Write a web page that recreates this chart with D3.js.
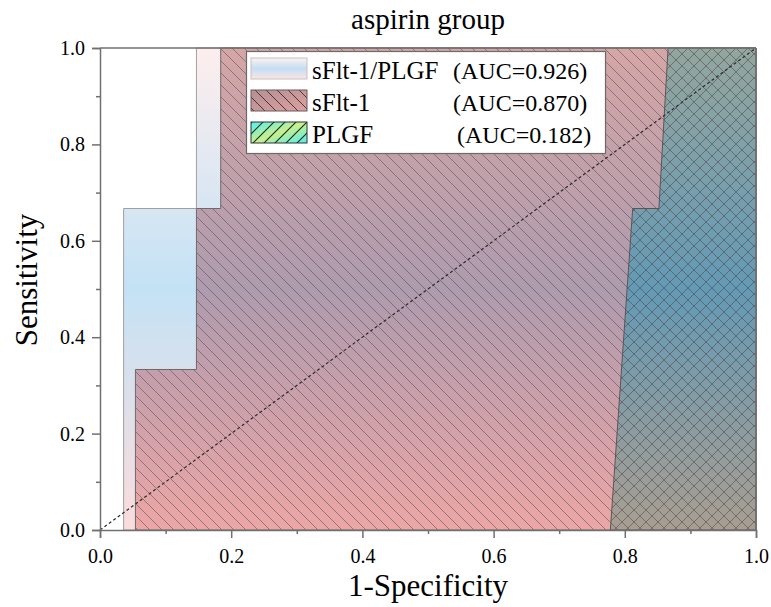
<!DOCTYPE html>
<html>
<head>
<meta charset="utf-8">
<script src="https://cdn.jsdelivr.net/npm/d3@7"></script>
<style>
  html, body { margin: 0; padding: 0; background: #fff; }
  svg { display: block; }
  text { font-family: "Liberation Serif", "Times New Roman", serif; fill: #000; }
</style>
</head>
<body>
<div id="chart"></div>
<script>
// ---------------- data ----------------
const seriesNames = ["sFlt-1/PLGF", "sFlt-1", "PLGF"];
const aucValues = [0.926, 0.870, 0.182];
// ROC points (1-Specificity, Sensitivity)
const ratioFpr = [0.036, 0.036, 0.147, 0.147, 1.0];
const ratioTpr = [0.0, 0.667, 0.667, 1.0, 1.0];
const sflt1Fpr = [0.054, 0.054, 0.147, 0.147, 0.184, 0.184, 1.0];
const sflt1Tpr = [0.0, 0.333, 0.333, 0.667, 0.667, 1.0, 1.0];
const plgfFpr = [0.778, 0.812, 0.852, 0.866, 1.0];
const plgfTpr = [0.0, 0.667, 0.667, 1.0, 1.0];
const refLine = [0, 1];
const xTicks = [0, 0.2, 0.4, 0.6, 0.8, 1.0];
const xMinorTicks = [0.1, 0.3, 0.5, 0.7, 0.9];
const yTicks = [0, 0.2, 0.4, 0.6, 0.8, 1.0];
const yMinorTicks = [0.1, 0.3, 0.5, 0.7, 0.9];
const titleText = "aspirin group";
const xLabel = "1-Specificity";
const yLabel = "Sensitivity";

// ---------------- layout ----------------
const W = 771, H = 607;
const M = { left: 100, top: 48, right: 15, bottom: 77 };
const pw = W - M.left - M.right, ph = H - M.top - M.bottom;

const svg = d3.select("#chart").append("svg").attr("width", W).attr("height", H);
const defs = svg.append("defs");

const x = d3.scaleLinear().domain([0, 1]).range([0, pw]);
const y = d3.scaleLinear().domain([0, 1]).range([ph, 0]);

function vGrad(id, stops, units) {
  const g = defs.append("linearGradient").attr("id", id)
    .attr("x1", 0).attr("x2", 0);
  if (units === "user") {
    g.attr("gradientUnits", "userSpaceOnUse").attr("y1", 0).attr("y2", ph);
  } else {
    g.attr("y1", 0).attr("y2", 1);
  }
  stops.forEach(s => g.append("stop").attr("offset", s[0]).attr("stop-color", s[1]));
  return g;
}
vGrad("gRatio", [[0, "#fdeeee"], [0.5, "#c4e2f5"], [1, "#fbdcdc"]], "user");
vGrad("gSflt", [[0, "#d5a6a6"], [0.5, "#ae9bae"], [1, "#eca6a6"]], "user");
vGrad("gPlgf", [[0, "#93a69f"], [0.5, "#639ab6"], [1, "#a89e92"]], "user");
vGrad("gLeg1", [[0, "#fdf3f2"], [0.5, "#c3def2"], [1, "#fbe6e4"]]);
const gl2 = defs.append("linearGradient").attr("id", "gLeg2")
  .attr("x1", 0).attr("y1", 0).attr("x2", 1).attr("y2", 1);
gl2.append("stop").attr("offset", 0).attr("stop-color", "#b48f93");
gl2.append("stop").attr("offset", 1).attr("stop-color", "#dea0a0");
const gl3 = defs.append("linearGradient").attr("id", "gLeg3")
  .attr("x1", 0).attr("y1", 0).attr("x2", 1).attr("y2", 1);
gl3.append("stop").attr("offset", 0).attr("stop-color", "#4ef0f2");
gl3.append("stop").attr("offset", 0.5).attr("stop-color", "#c8f08c");
gl3.append("stop").attr("offset", 1).attr("stop-color", "#4eeef2");

function hatch(id, dir, color, op, sw, size) {
  const p = defs.append("pattern").attr("id", id)
    .attr("patternUnits", "userSpaceOnUse").attr("width", size).attr("height", size);
  const s = size;
  const d = dir === "back"
    ? `M0,0L${s},${s}M${-s / 2},${s / 2}L${s / 2},${s * 1.5}M${s / 2},${-s / 2}L${s * 1.5},${s / 2}`
    : `M0,${s}L${s},0M${-s / 2},${s / 2}L${s / 2},${-s / 2}M${s / 2},${s * 1.5}L${s * 1.5},${s / 2}`;
  p.append("path").attr("d", d).attr("stroke", color).attr("stroke-opacity", op)
    .attr("stroke-width", sw).attr("fill", "none");
}
hatch("hBack", "back", "#3a3a3a", 0.55, 0.85, 12);
hatch("hBack2", "back", "#4a3a3c", 0.6, 0.85, 12);
hatch("hFwd", "fwd", "#4a3a3c", 0.6, 0.85, 12);
hatch("hBackL", "back", "#222", 0.8, 1, 11);
hatch("hFwdL", "fwd", "#111", 0.9, 1.1, 11);

const g = svg.append("g").attr("transform", `translate(${M.left},${M.top})`);

const area = d3.area().x(d => x(d[0])).y0(y(0)).y1(d => y(d[1]));
const ratioPts = ratioFpr.map((v, i) => [v, ratioTpr[i]]);
const sfltPts = sflt1Fpr.map((v, i) => [v, sflt1Tpr[i]]);
const plgfPts = plgfFpr.map((v, i) => [v, plgfTpr[i]]);

// sFlt-1/PLGF
g.append("path").attr("d", area(ratioPts)).attr("fill", "url(#gRatio)")
  .attr("stroke", "#a0a0a0").attr("stroke-width", 1);
// sFlt-1
g.append("path").attr("d", area(sfltPts)).attr("fill", "url(#gSflt)");
g.append("path").attr("d", area(sfltPts)).attr("fill", "url(#hBack)");
g.append("path").attr("d", area(sfltPts)).attr("fill", "none")
  .attr("stroke", "#6e6a6c").attr("stroke-width", 1);
// PLGF
g.append("path").attr("d", area(plgfPts)).attr("fill", "url(#gPlgf)");
g.append("path").attr("d", area(plgfPts)).attr("fill", "url(#hBack2)");
g.append("path").attr("d", area(plgfPts)).attr("fill", "url(#hFwd)");
g.append("path").attr("d", area(plgfPts)).attr("fill", "none")
  .attr("stroke", "#5e5456").attr("stroke-width", 1);

// reference diagonal
g.append("line")
  .attr("x1", x(refLine[0])).attr("y1", y(refLine[0]))
  .attr("x2", x(refLine[1])).attr("y2", y(refLine[1]))
  .attr("stroke", "#2a2a2a").attr("stroke-width", 1.2).attr("stroke-dasharray", "3,2.5");

// axes
const axisColor = "#707070";
const fmt = d3.format(".1f");
const xAxis = g.append("g").attr("transform", `translate(0,${ph})`)
  .call(d3.axisBottom(x).tickValues(xTicks).tickFormat(fmt).tickSize(8).tickPadding(11));
const xMinor = g.append("g").attr("transform", `translate(0,${ph})`)
  .call(d3.axisBottom(x).tickValues(xMinorTicks).tickFormat("").tickSize(4));
const yAxis = g.append("g")
  .call(d3.axisLeft(y).tickValues(yTicks).tickFormat(fmt).tickSize(8).tickPadding(7));
const yMinor = g.append("g")
  .call(d3.axisLeft(y).tickValues(yMinorTicks).tickFormat("").tickSize(4));
[xAxis, xMinor, yAxis, yMinor].forEach(a => {
  a.selectAll(".domain").attr("stroke", axisColor).attr("stroke-width", 1.5);
  a.selectAll(".tick line").attr("stroke", axisColor).attr("stroke-width", 1.5);
  a.selectAll("text").attr("font-family", "Liberation Serif").attr("font-size", 20).attr("fill", "#000");
});
xMinor.select(".domain").remove();
yMinor.select(".domain").remove();
// frame top & right
g.append("line").attr("x1", 0).attr("x2", pw).attr("y1", 0).attr("y2", 0)
  .attr("stroke", axisColor).attr("stroke-width", 1.5);
g.append("line").attr("x1", pw).attr("x2", pw).attr("y1", 0).attr("y2", ph)
  .attr("stroke", axisColor).attr("stroke-width", 1.5);

// titles
svg.append("text").attr("x", M.left + pw / 2).attr("y", 29).attr("text-anchor", "middle")
  .attr("font-size", 29).text(titleText);
svg.append("text").attr("x", M.left + pw / 2).attr("y", 596).attr("text-anchor", "middle")
  .attr("font-size", 31).text(xLabel);
svg.append("text").attr("transform", "translate(37,280) rotate(-90)").attr("text-anchor", "middle")
  .attr("font-size", 31).text(yLabel);

// legend
const lg = svg.append("g");
lg.append("rect").attr("x", 246.5).attr("y", 51.5).attr("width", 359).attr("height", 102)
  .attr("fill", "#fff").attr("stroke", "#6a6a6a").attr("stroke-width", 1.2);
const swatchFills = [["url(#gLeg1)"], ["url(#gLeg2)", "url(#hBackL)"], ["url(#gLeg3)", "url(#hFwdL)"]];
const swatchStroke = ["#c8c0c0", "#6a5a5a", "#333"];
const aucX = [453, 453, 457];
seriesNames.forEach((name, i) => {
  const ty = 58 + i * 32;
  swatchFills[i].forEach(f => {
    lg.append("rect").attr("x", 251).attr("y", ty).attr("width", 56).attr("height", 21)
      .attr("fill", f);
  });
  lg.append("rect").attr("x", 251).attr("y", ty).attr("width", 56).attr("height", 21)
    .attr("fill", "none").attr("stroke", swatchStroke[i]).attr("stroke-width", 1);
  lg.append("text").attr("x", 312).attr("y", ty + 21).attr("font-size", 25).text(name);
  lg.append("text").attr("x", aucX[i]).attr("y", ty + 21).attr("font-size", 24)
    .text("(AUC=" + d3.format(".3f")(aucValues[i]) + ")");
});
</script>
</body>
</html>
